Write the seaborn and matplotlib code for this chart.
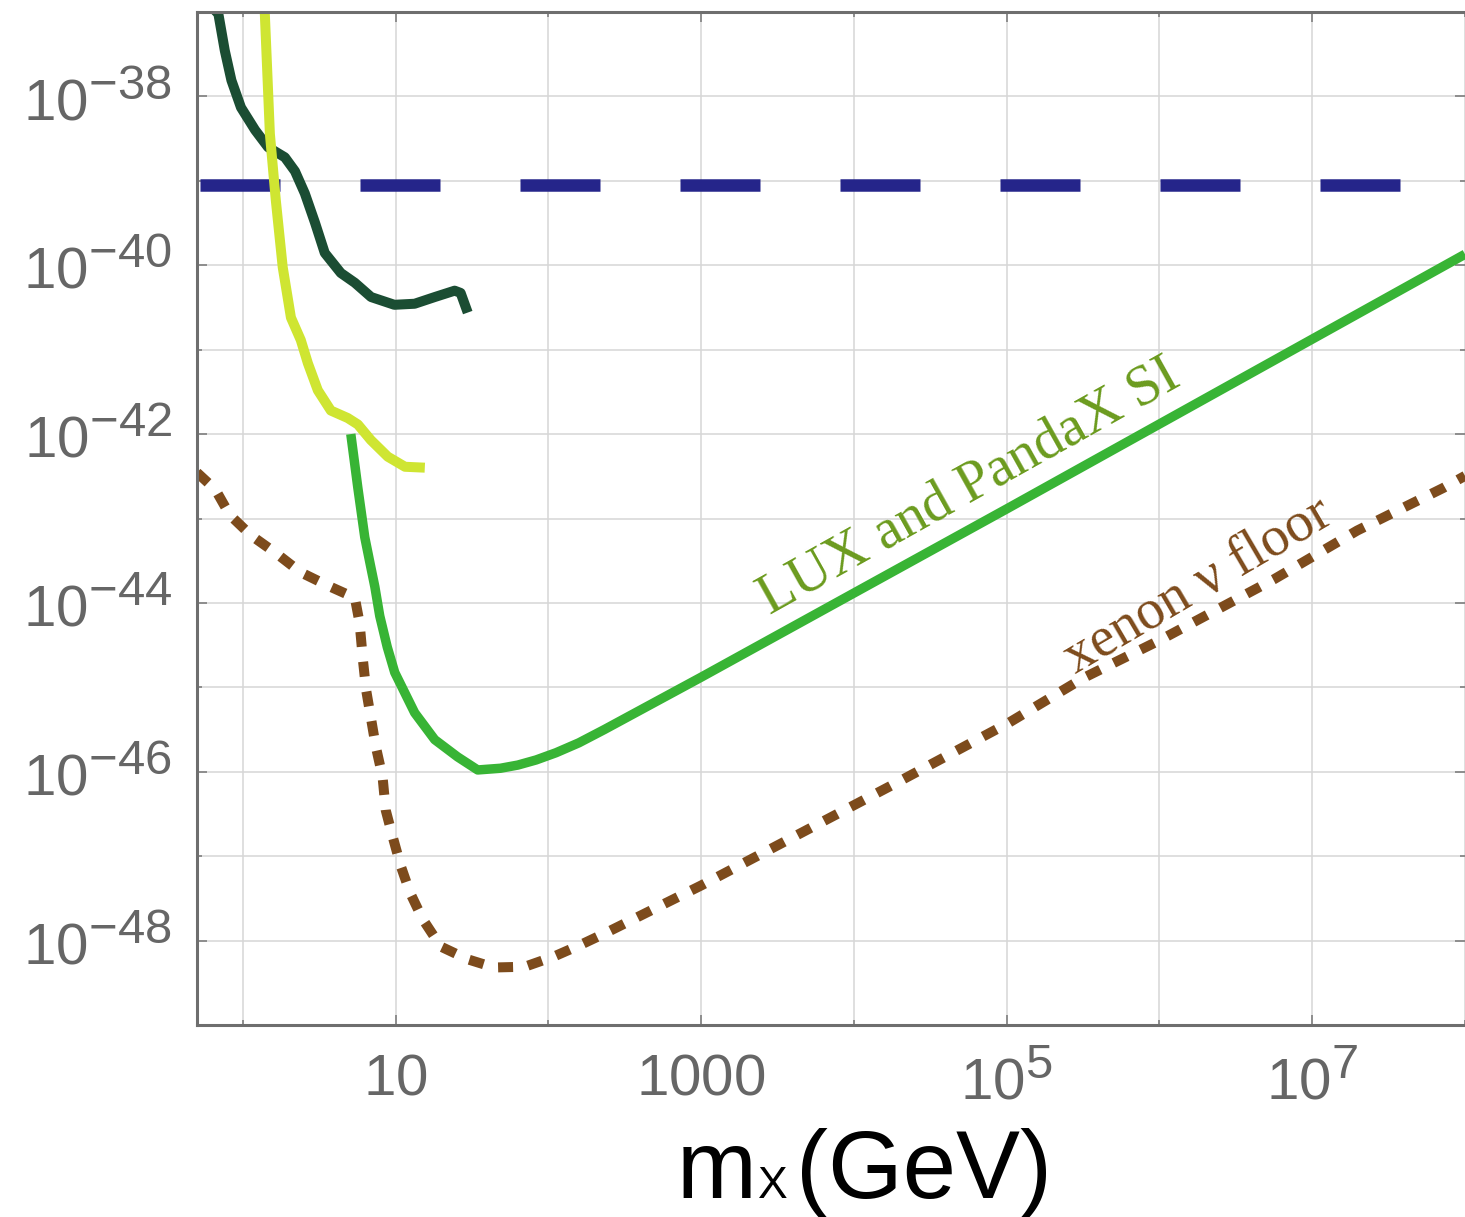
import numpy as np
import pandas as pd
import seaborn as sns
import matplotlib.pyplot as plt
import matplotlib._mathtext as mtext

# dark-matter exclusion limits
# masses in GeV, cross sections in cm^2

dark_mass = [0.61, 0.69, 0.76, 0.84, 0.97, 1.2, 1.46, 1.88, 2.19, 2.54, 2.96,
             3.43, 4.37, 5.4, 6.9, 9.8, 13.3, 18, 24.3, 26.6, 29.6]
dark_sigma = [1.2e-37, 9.5e-38, 3.5e-38, 1.55e-38, 7.4e-39, 4.0e-39, 2.5e-39,
              1.9e-39, 1.3e-39, 7.1e-40, 3.2e-40, 1.4e-40, 8.1e-41, 6.2e-41,
              4.2e-41, 3.4e-41, 3.5e-41, 4.2e-41, 5.0e-41, 4.7e-41, 2.75e-41]

yellow_mass = [1.37, 1.39, 1.50, 1.64, 1.82, 2.06, 2.39, 2.66, 3.09, 3.76, 4.85,
               5.65, 6.87, 8.87, 11.5, 15.5]
yellow_sigma = [1.2e-37, 9.5e-38, 3.6e-39, 5.9e-40, 9.5e-41, 2.4e-41, 1.3e-41,
                6.9e-42, 3.3e-42, 1.9e-42, 1.55e-42, 1.3e-42, 8.5e-43, 5.4e-43,
                4.1e-43, 4.0e-43]

lux_mass = [5.08, 5.65, 6.27, 6.8, 7.3, 7.86, 8.8, 9.85, 13.3, 18, 25.4, 34.4,
            48.5, 63, 83, 112, 158, 232, 1000, 1e5, 1e8]
lux_sigma = [1.0e-42, 2.3e-43, 6.0e-44, 2.9e-44, 1.55e-44, 7.0e-45, 3.0e-45,
             1.5e-45, 5.0e-46, 2.4e-46, 1.5e-46, 1.05e-46, 1.1e-46, 1.2e-46,
             1.38e-46, 1.68e-46, 2.2e-46, 3.16e-46, 1.32e-45, 1.3e-43, 1.35e-40]

floor_mass = [0.5, 0.66, 0.82, 1.13, 1.64, 2.39, 3.6, 5.4, 5.8, 6.1, 6.4, 6.9,
              7.4, 8.2, 8.6, 9.55, 10.8, 12.4, 15, 19.7, 29.6, 44, 70, 109, 162,
              243, 1000, 1.9e4, 1.03e5, 3.2e5, 1e6, 5.6e6, 1.97e7, 7.2e7, 1e8]
floor_sigma = [3.5e-43, 2.2e-43, 1.1e-43, 6.3e-44, 3.9e-44, 2.3e-44, 1.6e-44,
               1.15e-44, 5.8e-45, 2.1e-45, 9.3e-46, 4.2e-46, 2.0e-46, 8.7e-47,
               3.5e-47, 1.7e-47, 7.6e-48, 3.7e-48, 1.8e-48, 8.5e-49, 6.0e-49,
               4.8e-49, 4.9e-49, 6.5e-49, 8.9e-49, 1.26e-48, 4.5e-48, 7.4e-47,
               3.8e-46, 1.3e-45, 3.6e-45, 1.9e-44, 7.2e-44, 2.3e-43, 3.2e-43]

limit_mass = [0.52, 1e8]
limit_sigma = [9e-40, 9e-40]

xticks = [10, 1000, 1e5, 1e7]
xticklabels = ["$10$", "$1000$", "$10^{5}$", "$10^{7}$"]
xminor = [1, 100, 1e4, 1e6, 1e8]
yticks = [1e-38, 1e-40, 1e-42, 1e-44, 1e-46, 1e-48]
yticklabels = ["$10^{-38}$", "$10^{-40}$", "$10^{-42}$", "$10^{-44}$",
               "$10^{-46}$", "$10^{-48}$"]
yminor = [1e-37, 1e-39, 1e-41, 1e-43, 1e-45, 1e-47, 1e-49]

sns.set_style("ticks")
plt.rcParams['font.family'] = ['Liberation Sans', 'DejaVu Sans']
plt.rcParams['mathtext.fontset'] = 'custom'
plt.rcParams['mathtext.rm'] = 'Liberation Sans'
plt.rcParams['mathtext.it'] = 'Liberation Sans:italic'
plt.rcParams['mathtext.default'] = 'regular'
# larger exponents, as in the original
mtext.SHRINK_FACTOR = 0.84

fig = plt.figure(figsize=(14.65, 12.17), dpi=100)
ax = fig.add_axes([197 / 1465, 1 - 1025 / 1217, 1268 / 1465, 1013 / 1217])

def curve(m, s, **kw):
    df = pd.DataFrame({"m": m, "s": s})
    sns.lineplot(data=df, x="m", y="s", ax=ax, estimator=None, sort=False,
                 solid_capstyle="butt", solid_joinstyle="round", **kw)

curve(limit_mass, limit_sigma, color="#25258a", linewidth=9.0,
      linestyle=(0, (6.4, 6.4)))
curve(dark_mass, dark_sigma, color="#1b4d33", linewidth=7.2)
curve(yellow_mass, yellow_sigma, color="#cfe532", linewidth=7.2)
curve(lux_mass, lux_sigma, color="#38b435", linewidth=6.8)
curve(floor_mass, floor_sigma, color="#7d4b1c", linewidth=7.2,
      linestyle=(0, (1.5, 1.5)))

ax.set_xscale("log")
ax.set_yscale("log")
ax.set_xlim(0.5, 1e8)
ax.set_ylim(1e-49, 1e-37)

ax.set_xticks(xticks, xticklabels)
ax.set_xticks(xminor, minor=True)
ax.set_xticklabels([], minor=True)
ax.set_yticks(yticks, yticklabels)
ax.set_yticks(yminor, minor=True)
ax.set_yticklabels([], minor=True)

ax.tick_params(which="both", direction="in", top=True, right=True,
               color="#777777", width=1.1)
ax.tick_params(which="major", length=7)
ax.tick_params(which="minor", length=3.5)
ax.tick_params(axis="x", which="major", pad=20, labelsize=42, labelcolor="#666666")
ax.tick_params(axis="y", which="major", pad=18, labelsize=42, labelcolor="#666666")
ax.grid(which="both", color="#d6d6d6", linewidth=1.1)

for side in ["left", "bottom", "top"]:
    ax.spines[side].set_color("#6e6e6e")
    ax.spines[side].set_linewidth(2.2)
ax.spines["right"].set_visible(False)

ax.set_xlabel("")
ax.set_ylabel("")

# axis title: m with a small X, then (GeV)
base_y = 1 - 1198 / 1217
fig.text(677 / 1465, base_y, "m", fontsize=69, color="black", va="baseline")
fig.text(758 / 1465, base_y, "X", fontsize=32, color="black", va="baseline")
fig.text(796 / 1465, base_y, "(GeV)", fontsize=69, color="black", va="baseline")

ax.text(2.8e3, 7.2e-45, "LUX and PandaX SI", family="Liberation Serif",
        fontsize=41, color="#6b9b1e", rotation=29.2, rotation_mode="anchor",
        ha="left", va="baseline")
ax.text(2.8e5, 1.45e-45, "xenon ν floor", family="Liberation Serif",
        fontsize=40.5, color="#7d4b1c", rotation=30.4, rotation_mode="anchor",
        ha="left", va="baseline")

fig.savefig("out.png", dpi=100)
